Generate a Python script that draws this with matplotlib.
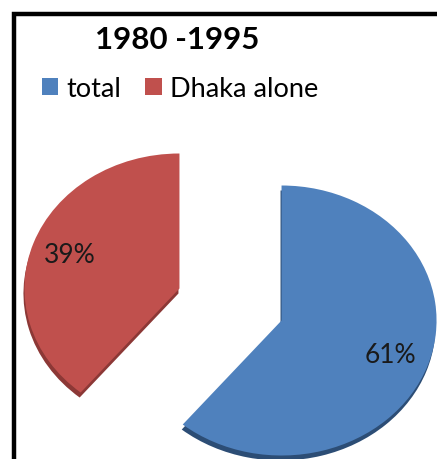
import matplotlib
matplotlib.use("Agg")
import matplotlib.pyplot as plt
from matplotlib.patches import Patch
from matplotlib.lines import Line2D

# data
labels = ["total", "Dhaka alone"]
values = [61, 39]
colors = ["#4f81bd", "#c0504d"]
side_colors = ["#2c4d75", "#8c3836"]
title = "1980 -1995"

W, H = 437, 460
plt.rcParams["font.family"] = ["Lato", "DejaVu Sans"]

fig = plt.figure(figsize=(W / 100, H / 100), dpi=100)

# pixel layout of the (tilted) pie: centre and radii of the ellipse
cx, cy = 230.5, 305.5
rx, ry = 155.0, 135.0
ax = fig.add_axes([0, 0, 1, 1])

explode = [0.35, 0.35]
# depth of the 3D look: darker copy slightly lower
ax.pie(values, colors=side_colors, startangle=90, counterclock=False,
       explode=explode, center=(-1 / rx, -5 / ry),
       wedgeprops=dict(linewidth=0))
wedges, texts, autotexts = ax.pie(
    values, colors=colors, startangle=90, counterclock=False,
    explode=explode, autopct="%1.0f%%", pctdistance=0.75,
    wedgeprops=dict(linewidth=0),
    textprops=dict(fontsize=19, color="#1a1a1a"))

ax.set_aspect("auto")
ax.set_xlim(-cx / rx, (W - cx) / rx)
ax.set_ylim(-(H - cy) / ry, cy / ry)
ax.axis("off")

fig.text(177 / W, 1 - 40 / H, title, ha="center", va="center",
         fontsize=22.5, fontweight="bold")

handles = [Patch(facecolor=c, edgecolor="none") for c in colors]
fig.legend(handles, labels, loc="upper left", bbox_to_anchor=(31 / W, 1 - 66 / H),
           ncol=2, frameon=False, fontsize=19.5, handlelength=0.6, handleheight=0.6,
           handletextpad=0.3, columnspacing=0.9, borderaxespad=0)

# frame of the original chart (right and bottom edges are cut off)
bx, by = 13.5 / W, 1 - 15 / H
fig.add_artist(Line2D([bx, bx, 1.05], [-0.05, by, by], transform=fig.transFigure,
                      color="black", linewidth=3.2, solid_joinstyle="miter"))

fig.savefig("out.png", dpi=100)
